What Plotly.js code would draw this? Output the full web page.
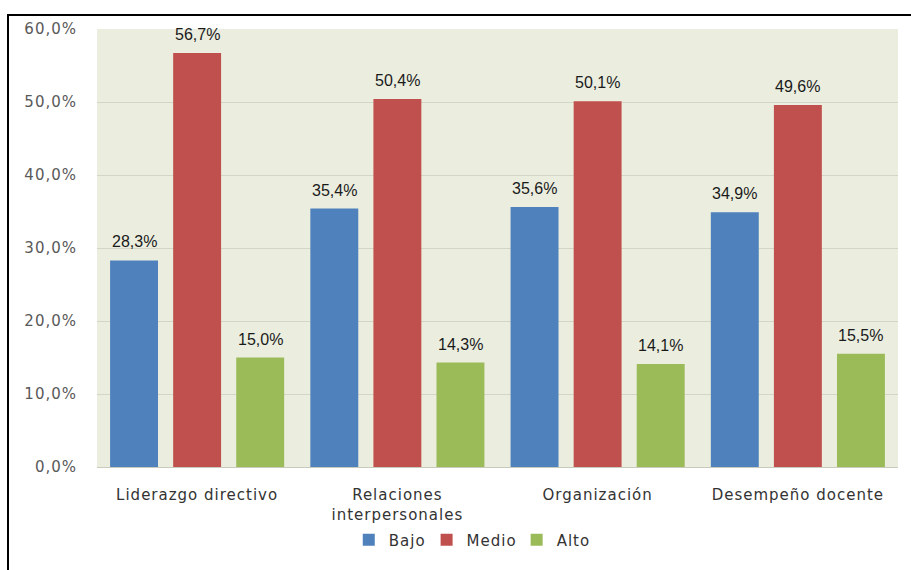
<!DOCTYPE html>
<html>
<head>
<meta charset="utf-8">
<script src="https://cdn.plot.ly/plotly-3.0.1.min.js"></script>
<style>
  html, body { margin: 0; padding: 0; background: #ffffff; overflow: hidden; }
  #frame { position: absolute; left: 7px; top: 14px; width: 920px; height: 580px;
           border-left: 2px solid #000; border-top: 2px solid #000; box-sizing: border-box; }
  #chart { position: absolute; left: 0; top: 0; width: 911px; height: 570px; }
  #chart .xtick text, #chart .ytick text, #chart .legendtext { letter-spacing: 1px; }
</style>
</head>
<body>
<div id="frame"></div>
<div id="chart"></div>
<script>
const categories = ["Liderazgo directivo", "Relaciones<br>interpersonales", "Organización", "Desempeño docente"];
const seriesNames = ["Bajo", "Medio", "Alto"];
const bajo  = [0.283, 0.354, 0.356, 0.349];
const medio = [0.567, 0.504, 0.501, 0.496];
const alto  = [0.150, 0.143, 0.141, 0.155];
const yTicks = [0, 0.1, 0.2, 0.3, 0.4, 0.5, 0.6];
const colors = ["#4F81BD", "#C0504D", "#9BBB59"];

const bargap = 0.055;
const values = [bajo, medio, alto];
const traces = values.map((v, i) => ({
  type: "bar",
  name: seriesNames[i],
  x: categories,
  y: v,
  marker: { color: colors[i] },
  hoverinfo: "skip"
}));

// data labels as annotations placed at each bar's centre, via the category axis
const slot = (1 - bargap) / values.length;
const annotations = [];
values.forEach((v, j) => {
  v.forEach((val, i) => {
    annotations.push({
      x: i + (j - (values.length - 1) / 2) * slot,
      y: val,
      xref: "x", yref: "y",
      text: (val * 100).toFixed(1).replace(".", ",") + "%",
      showarrow: false,
      yanchor: "bottom",
      yshift: 8,
      font: { family: "Liberation Sans, Arial, sans-serif", size: 16, color: "#1a1a1a" }
    });
  });
});

const layout = {
  width: 911, height: 570,
  separators: ",.",
  paper_bgcolor: "rgba(0,0,0,0)",
  plot_bgcolor: "#EBEEDF",
  margin: { l: 97, r: 13, t: 29, b: 103 },
  barmode: "group",
  bargap: bargap,
  bargroupgap: 0.24,
  showlegend: true,
  annotations: annotations,
  legend: {
    orientation: "h", x: 0.466, xanchor: "center", y: -0.1667, yanchor: "middle",
    font: { family: "DejaVu Sans, Verdana, sans-serif", size: 15, color: "#333333" },
    itemwidth: 30, traceorder: "normal", bgcolor: "rgba(0,0,0,0)"
  },
  xaxis: {
    type: "category", automargin: false,
    showgrid: false, zeroline: false, showline: false,
    ticks: "", ticklabelstandoff: 17,
    tickfont: { family: "DejaVu Sans, Verdana, sans-serif", size: 15, color: "#333333" }
  },
  yaxis: {
    range: [0, 0.6], automargin: false,
    tickvals: yTicks,
    tickformat: ".1%",
    showgrid: true, gridcolor: "#D3D6C6", gridwidth: 1,
    zeroline: true, zerolinecolor: "#C8CBBB", zerolinewidth: 1,
    showline: false, ticks: "", ticklabelstandoff: 19,
    tickfont: { family: "DejaVu Sans, Verdana, sans-serif", size: 15, color: "#595959" }
  }
};

Plotly.newPlot("chart", traces, layout, { displayModeBar: false, staticPlot: true });
</script>
</body>
</html>
